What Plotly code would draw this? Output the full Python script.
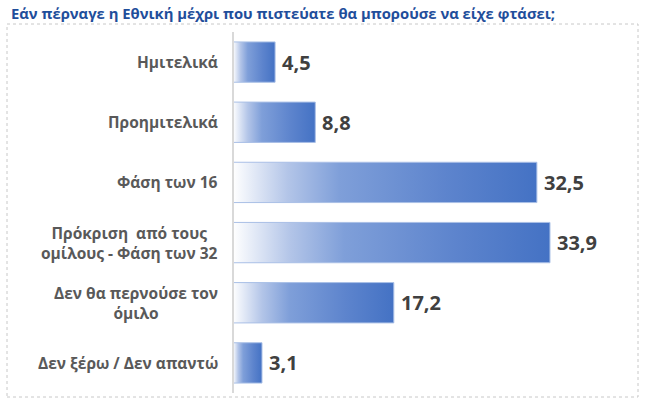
import plotly.graph_objects as go

categories = ["Ημιτελικά", "Προημιτελικά", "Φάση των 16",
              "Πρόκριση  από τους<br>ομίλους - Φάση των 32",
              "Δεν θα περνούσε τον<br>όμιλο", "Δεν ξέρω / Δεν απαντώ"]
values = [4.5, 8.8, 32.5, 33.9, 17.2, 3.1]
title_text = "Εάν πέρναγε η Εθνική μέχρι που πιστεύατε θα μπορούσε να είχε φτάσει;"

W, H = 648, 407
half = 0.335
gradient = [[0.0, "#ffffff"], [0.18, "#b3c5e8"], [0.35, "#7f9fd9"],
            [0.7, "#5d84cd"], [1.0, "#4472c4"]]

fig = go.Figure()
for i, (cat, v) in enumerate(zip(categories, values)):
    fig.add_trace(go.Scatter(
        x=[0, v, v, 0, 0], y=[i - half, i - half, i + half, i + half, i - half],
        mode="lines", fill="toself",
        line=dict(color="#a9bfe6", width=1),
        fillgradient=dict(type="horizontal", colorscale=gradient, start=0, stop=v),
        hoverinfo="skip", showlegend=False))

annotations = []
for i, (cat, v) in enumerate(zip(categories, values)):
    annotations.append(dict(
        x=v, y=i, xref="x", yref="y", text=f"{v:.1f}".replace(".", ","),
        showarrow=False, xanchor="left", yanchor="middle", xshift=5,
        font=dict(family="Open Sans", size=20, color="#404040", weight="bold")))
    annotations.append(dict(
        x=233 / W, y=i, xref="paper", yref="y", text=cat, align="center",
        showarrow=False, xanchor="right", yanchor="middle", xshift=-13,
        font=dict(family="Open Sans", size=15.5, color="#595959", weight="bold")))

annotations.append(dict(
    x=9 / W, y=1 - 1 / H, xref="paper", yref="paper", text=title_text,
    showarrow=False, xanchor="left", yanchor="top",
    font=dict(family="Open Sans", size=14.8, color="#1f4e9b", weight="bold")))

fig.update_layout(
    width=W, height=H, margin=dict(l=0, r=0, t=0, b=0),
    paper_bgcolor="white", plot_bgcolor="white",
    xaxis=dict(domain=[233 / W, 607 / W], range=[0, 40], visible=False, fixedrange=True),
    yaxis=dict(domain=[(H - 393) / H, (H - 32) / H], range=[5.5, -0.5],
               showticklabels=False, showgrid=False, zeroline=False, fixedrange=True),
    annotations=annotations,
    shapes=[
        dict(type="line", xref="paper", yref="paper", x0=233 / W, x1=233 / W,
             y0=(H - 393) / H, y1=(H - 32) / H, line=dict(color="#d9d9d9", width=2)),
        dict(type="rect", xref="paper", yref="paper", x0=7 / W, x1=638 / W,
             y0=(H - 397) / H, y1=(H - 24) / H, line=dict(color="#c8c8c8", width=1, dash="dot")),
    ],
)

fig.write_html("out.html")
